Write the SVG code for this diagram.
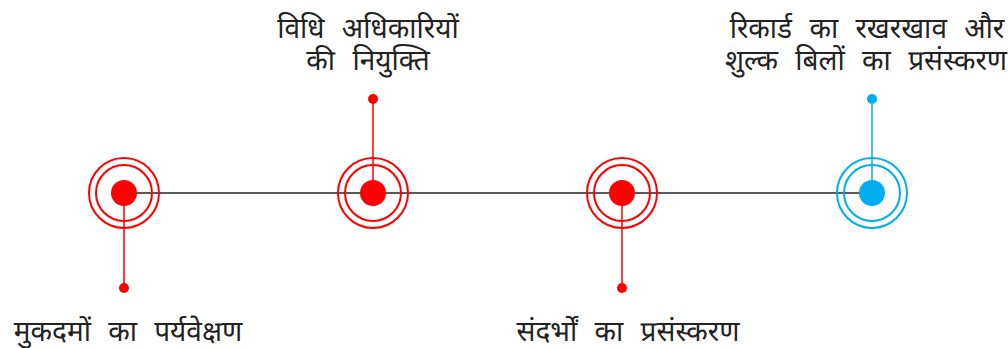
<svg xmlns="http://www.w3.org/2000/svg" width="1008" height="348" viewBox="0 0 1008 348">
<style>
.lbl{font-family:"Noto Sans Devanagari","Noto Sans","Lohit Devanagari",sans-serif;font-size:28px;fill:#222;text-anchor:middle;word-spacing:10px}
.r .ring{fill:none;stroke:#ff0000;stroke-width:2}
.r .dot{fill:#ff0000}
.b .ring{fill:none;stroke:#00aeef;stroke-width:2}
.b .dot{fill:#00aeef}
.stem-r{stroke:#ff0000;stroke-width:1.5}
.stem-b{stroke:#00aeef;stroke-width:1.5}
</style>
<rect width="1008" height="348" fill="#fff"/>
<g id="connectors">
<line x1="124" y1="193" x2="872" y2="193" stroke="#222" stroke-width="1.5"/>
<line class="stem-r" x1="124" y1="193" x2="124" y2="288"/><circle cx="124" cy="288" r="5" fill="#ff0000"/>
<line class="stem-r" x1="373" y1="193" x2="373" y2="99"/><circle cx="373" cy="99" r="5" fill="#ff0000"/>
<line class="stem-r" x1="622" y1="193" x2="622" y2="288"/><circle cx="622" cy="288" r="5" fill="#ff0000"/>
<line class="stem-b" x1="872" y1="193" x2="872" y2="99"/><circle cx="872" cy="99" r="5" fill="#00aeef"/>
</g>
<g id="node1" class="r">
<circle class="ring" cx="124" cy="193" r="35"/><circle class="ring" cx="124" cy="193" r="28"/><circle class="dot" cx="124" cy="193" r="13"/>
<text class="lbl" x="128" y="341">मुकदमों का पर्यवेक्षण</text>
</g>
<g id="node2" class="r">
<circle class="ring" cx="373" cy="193" r="35"/><circle class="ring" cx="373" cy="193" r="28"/><circle class="dot" cx="373" cy="193" r="13"/>
<text class="lbl" x="368" y="38">विधि अधिकारियों</text>
<text class="lbl" x="368" y="70">की नियुक्ति</text>
</g>
<g id="node3" class="r">
<circle class="ring" cx="622" cy="193" r="35"/><circle class="ring" cx="622" cy="193" r="28"/><circle class="dot" cx="622" cy="193" r="13"/>
<text class="lbl" x="628" y="341">संदर्भों का प्रसंस्करण</text>
</g>
<g id="node4" class="b">
<circle class="ring" cx="872" cy="193" r="35"/><circle class="ring" cx="872" cy="193" r="28"/><circle class="dot" cx="872" cy="193" r="13"/>
<text class="lbl" x="867" y="38">रिकार्ड का रखरखाव और</text>
<text class="lbl" x="866" y="70">शुल्क बिलों का प्रसंस्करण</text>
</g>
</svg>
